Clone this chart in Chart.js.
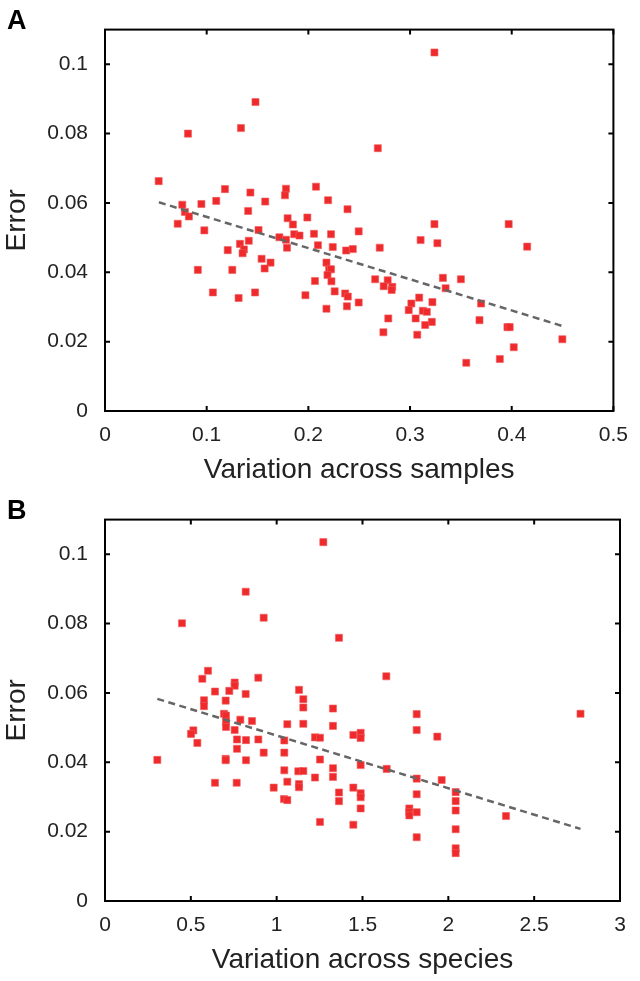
<!DOCTYPE html>
<html>
<head>
<meta charset="utf-8">
<script src="https://cdn.jsdelivr.net/npm/chart.js@4.4.1/dist/chart.umd.min.js"></script>
<style>
html, body { margin: 0; padding: 0; background: #fff; }
#wrap { position: relative; width: 640px; height: 981px; }
canvas { position: absolute; left: 0; }
</style>
</head>
<body>
<div id="wrap">
  <canvas id="chartA" width="640" height="490" style="top:0px"></canvas>
  <canvas id="chartB" width="640" height="491" style="top:490px"></canvas>
</div>
<script>
// panel A: variation across samples vs error
var samplesX = [0.148, 0.1337, 0.0816, 0.0528, 0.118, 0.143, 0.1094, 0.0948, 0.076, 0.1576,
  0.178, 0.177, 0.1408, 0.0786, 0.0825, 0.0715, 0.0977, 0.151, 0.1715, 0.178,
  0.179, 0.1327, 0.1414, 0.1366, 0.1353, 0.1207, 0.154, 0.1628, 0.157, 0.0913,
  0.1252, 0.1061, 0.1476, 0.1314, 0.324, 0.2683, 0.2075, 0.2194, 0.2385, 0.1796,
  0.199, 0.1848, 0.324, 0.3104, 0.3269, 0.2495, 0.1861, 0.1913, 0.2055, 0.2223,
  0.2094, 0.224, 0.2372, 0.2437, 0.2702, 0.2178, 0.2204, 0.2223, 0.2188, 0.2227,
  0.2065, 0.2259, 0.2362, 0.2388, 0.1971, 0.2495, 0.2379, 0.2178, 0.2657, 0.278,
  0.2741, 0.2825, 0.2819, 0.3323, 0.335, 0.35, 0.309, 0.3013, 0.322, 0.2987,
  0.3126, 0.3165, 0.3055, 0.3214, 0.3149, 0.2786, 0.2738, 0.3071, 0.3553, 0.397,
  0.4152, 0.3699, 0.3683, 0.3958, 0.398, 0.402, 0.3883, 0.4498];
var samplesErr = [0.0891, 0.0816, 0.0800, 0.0663, 0.0640, 0.0630, 0.0606, 0.0597, 0.0595, 0.0604,
  0.0641, 0.0622, 0.0577, 0.0574, 0.0561, 0.0540, 0.0521, 0.0522, 0.0501, 0.0494,
  0.0471, 0.0482, 0.0491, 0.0466, 0.0455, 0.0464, 0.0439, 0.0428, 0.0411, 0.0407,
  0.0407, 0.0342, 0.0342, 0.0326, 0.1034, 0.0758, 0.0647, 0.0608, 0.0582, 0.0556,
  0.0558, 0.0538, 0.0539, 0.0493, 0.0484, 0.0518, 0.0510, 0.0506, 0.0511, 0.0510,
  0.0478, 0.0473, 0.0463, 0.0467, 0.0471, 0.0428, 0.0408, 0.0409, 0.0392, 0.0374,
  0.0375, 0.0345, 0.0339, 0.0330, 0.0334, 0.0313, 0.0302, 0.0295, 0.0380, 0.0377,
  0.0360, 0.0358, 0.0349, 0.0384, 0.0354, 0.0380, 0.0327, 0.0310, 0.0314, 0.0291,
  0.0289, 0.0286, 0.0267, 0.0257, 0.0248, 0.0267, 0.0227, 0.0220, 0.0139, 0.0539,
  0.0474, 0.0310, 0.0262, 0.0242, 0.0242, 0.0184, 0.0150, 0.0207];
var samplesFitX = [0.053, 0.45];
var samplesFitY = [0.0602, 0.0245];

// panel B: variation across species vs error
var speciesX = [0.8195, 0.9243, 0.4485, 0.600, 0.567, 0.893, 0.7553, 0.7553, 0.724, 0.6408,
  0.8195, 0.5767, 0.703, 0.5767, 0.6932, 0.7048, 0.7048, 0.7048, 0.7883, 0.8563,
  0.7553, 0.5146, 0.501, 0.5379, 0.769, 0.8214, 0.8932, 0.769, 0.9243, 1.0446,
  1.0446, 1.062, 0.3048, 0.703, 0.703, 0.8214, 1.0446, 1.062, 0.6408, 0.767,
  0.9827, 1.0427, 1.062, 1.2718, 1.363, 1.6388, 1.1301, 1.1553, 1.1553, 1.3281,
  1.8157, 1.8157, 1.9357, 1.1553, 1.3281, 1.4466, 1.4893, 1.4893, 1.2233, 1.2524,
  1.2524, 1.4893, 1.6408, 1.3281, 1.3281, 1.2233, 1.126, 1.1553, 1.1301, 1.1301,
  1.8157, 1.9613, 1.363, 1.363, 1.4466, 1.4893, 1.4893, 1.4893, 1.8157, 1.7728,
  1.7728, 1.7728, 1.8157, 1.8157, 1.2524, 1.4466, 2.0427, 2.0427, 2.0427, 2.0427,
  2.0427, 2.0427, 2.336, 2.77];
var speciesErr = [0.0892, 0.0817, 0.0801, 0.0664, 0.0641, 0.0644, 0.0630, 0.0621, 0.0606, 0.0604,
  0.0597, 0.0579, 0.0578, 0.0562, 0.0540, 0.0535, 0.0517, 0.0502, 0.0523, 0.0519,
  0.0493, 0.0492, 0.0482, 0.0456, 0.0466, 0.0464, 0.0466, 0.0439, 0.0428, 0.0463,
  0.0428, 0.0510, 0.0407, 0.0410, 0.0406, 0.0406, 0.0377, 0.0344, 0.0341, 0.0341,
  0.0327, 0.0294, 0.0291, 0.1035, 0.0759, 0.0648, 0.0609, 0.0582, 0.0558, 0.0555,
  0.0539, 0.0493, 0.0474, 0.0511, 0.0505, 0.0479, 0.0485, 0.0470, 0.0472, 0.0471,
  0.0408, 0.0392, 0.0381, 0.0383, 0.0358, 0.0356, 0.0374, 0.0375, 0.0337, 0.0328,
  0.0353, 0.0349, 0.0313, 0.0288, 0.0327, 0.0311, 0.0299, 0.0267, 0.0308, 0.0267,
  0.0257, 0.0247, 0.0256, 0.0184, 0.0228, 0.0220, 0.0314, 0.0288, 0.0261, 0.0207,
  0.0152, 0.0138, 0.0245, 0.0540];
var speciesFitX = [0.305, 2.77];
var speciesFitY = [0.0583, 0.0208];

var errTicks = [0, 0.02, 0.04, 0.06, 0.08, 0.1];
var errTickLabels = ['0', '0.02', '0.04', '0.06', '0.08', '0.1'];
var samplesTicks = [0, 0.1, 0.2, 0.3, 0.4, 0.5];
var samplesTickLabels = ['0', '0.1', '0.2', '0.3', '0.4', '0.5'];
var speciesTicks = [0, 0.5, 1, 1.5, 2, 2.5, 3];
var speciesTickLabels = ['0', '0.5', '1', '1.5', '2', '2.5', '3'];

var FONT = '"Liberation Sans", Arial, Helvetica, sans-serif';
var PLOT_BOTTOM = 411;

function toPoints(xs, ys) {
    var out = [];
    for (var i = 0; i < xs.length; i++) {
        out.push({x: xs[i], y: ys[i]});
    }
    return out;
}

// black box round the plot with small inward ticks on every side, plus the panel letter
var framePlugin = {
    id: 'frame',
    afterDraw: function(chart, args, opts) {
        var ctx = chart.ctx;
        var a = chart.chartArea;
        var sx = chart.scales.x, sy = chart.scales.y;
        ctx.save();
        ctx.strokeStyle = '#000';
        ctx.lineWidth = 2;
        ctx.beginPath();
        sx.ticks.forEach(function(t) {
            var px = sx.getPixelForValue(t.value);
            ctx.moveTo(px, a.bottom); ctx.lineTo(px, a.bottom - 5);
            ctx.moveTo(px, a.top); ctx.lineTo(px, a.top + 5);
        });
        sy.ticks.forEach(function(t) {
            var py = sy.getPixelForValue(t.value);
            ctx.moveTo(a.left, py); ctx.lineTo(a.left + 5, py);
            ctx.moveTo(a.right, py); ctx.lineTo(a.right - 5, py);
        });
        ctx.stroke();
        ctx.strokeRect(a.left, a.top, a.right - a.left, a.bottom - a.top);
        ctx.fillStyle = '#000';
        ctx.font = 'bold 27px ' + FONT;
        ctx.textBaseline = 'alphabetic';
        ctx.textAlign = 'left';
        ctx.fillText(opts.letter, 7, 29);
        ctx.restore();
    }
};

function drawPanel(canvas_id, letter, xs, ys, fitX, fitY, xMax, xTicks, xTickLabels, xTitle) {
    var canvas = document.getElementById(canvas_id);
    var H = canvas.height;
    var ctx = canvas.getContext('2d');
    return new Chart(ctx, {
        data: {
            datasets: [
                {
                    type: 'line',
                    data: toPoints(fitX, fitY),
                    borderColor: '#666666',
                    borderWidth: 2.5,
                    borderDash: [7, 4.5],
                    pointRadius: 0,
                    fill: false
                },
                {
                    type: 'scatter',
                    data: toPoints(xs, ys),
                    pointStyle: 'rect',
                    pointRadius: 5,
                    backgroundColor: '#ee2a2c',
                    borderColor: '#f25c5c',
                    borderWidth: 0.6
                }
            ]
        },
        options: {
            responsive: false,
            animation: false,
            devicePixelRatio: 1,
            layout: { padding: { left: 0, right: 20, top: 6, bottom: 0 } },
            plugins: {
                legend: { display: false },
                tooltip: { enabled: false },
                frame: { letter: letter }
            },
            scales: {
                x: {
                    type: 'linear',
                    min: 0,
                    max: xMax,
                    grid: { display: false, drawTicks: false },
                    border: { display: false },
                    afterBuildTicks: function(s) {
                        s.ticks = xTicks.map(function(v) { return {value: v}; });
                    },
                    afterFit: function(s) { s.height = H - PLOT_BOTTOM; },
                    ticks: {
                        padding: 12,
                        color: '#222',
                        font: { family: FONT, size: 21 },
                        maxRotation: 0,
                        callback: function(v, i) { return xTickLabels[i]; }
                    },
                    title: {
                        display: true,
                        text: xTitle,
                        color: '#222',
                        font: { family: FONT, size: 28 },
                        padding: { top: 0, bottom: H - 470 - 16.8 }
                    }
                },
                y: {
                    type: 'linear',
                    min: 0,
                    max: 0.11,
                    grid: { display: false, drawTicks: false },
                    border: { display: false },
                    afterBuildTicks: function(s) {
                        s.ticks = errTicks.map(function(v) { return {value: v}; });
                    },
                    afterFit: function(s) { s.width = 105; },
                    ticks: {
                        padding: 17,
                        color: '#222',
                        font: { family: FONT, size: 21 },
                        callback: function(v, i) { return errTickLabels[i]; }
                    },
                    title: {
                        display: true,
                        text: 'Error',
                        color: '#222',
                        font: { family: FONT, size: 28 },
                        padding: { top: 0.5, bottom: 0 }
                    }
                }
            }
        },
        plugins: [framePlugin]
    });
}

drawPanel('chartA', 'A', samplesX, samplesErr, samplesFitX, samplesFitY, 0.5,
    samplesTicks, samplesTickLabels, 'Variation across samples');
drawPanel('chartB', 'B', speciesX, speciesErr, speciesFitX, speciesFitY, 3,
    speciesTicks, speciesTickLabels, 'Variation across species');
</script>
</body>
</html>
